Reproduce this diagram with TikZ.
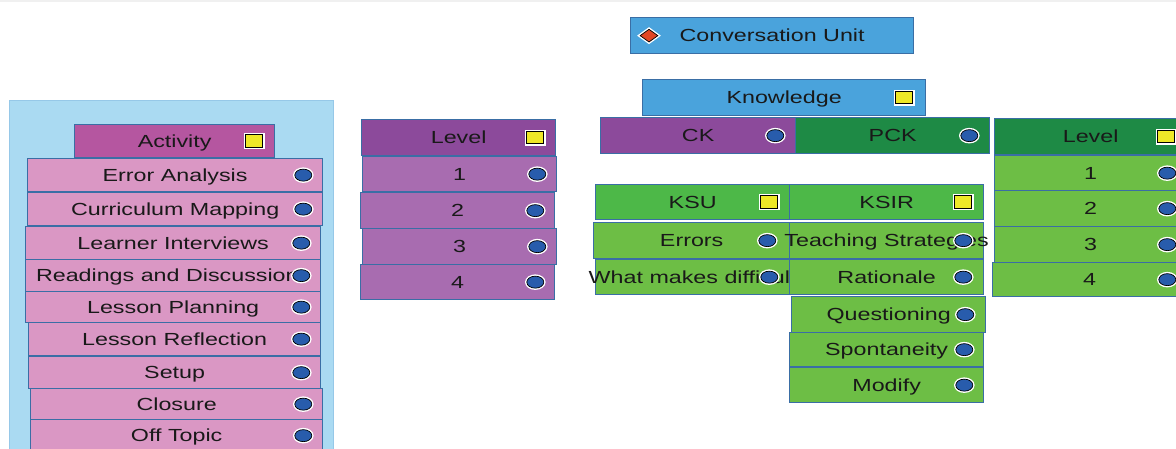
\documentclass[tikz,border=0pt]{standalone}
\usepackage{fontspec}
\setmainfont[FakeStretch=1.33]{Liberation Sans}
\usetikzlibrary{shapes.geometric}
\definecolor{panelc}{RGB}{170,218,242}
\definecolor{panelb}{RGB}{150,200,232}
\definecolor{actc}{RGB}{181,86,160}
\definecolor{pinkc}{RGB}{218,151,196}
\definecolor{purpc}{RGB}{140,74,155}
\definecolor{lpurpc}{RGB}{168,108,176}
\definecolor{bluec}{RGB}{74,163,220}
\definecolor{dgreenc}{RGB}{30,138,69}
\definecolor{mgreenc}{RGB}{77,184,72}
\definecolor{lgreenc}{RGB}{109,190,69}
\definecolor{borderc}{RGB}{58,110,165}
\definecolor{dotc}{RGB}{40,92,172}
\definecolor{yelc}{RGB}{238,232,40}
\definecolor{redc}{RGB}{226,70,36}
\definecolor{textc}{RGB}{25,25,25}
\tikzset{
  box/.style={rectangle, draw=borderc, line width=1.3pt, inner sep=0pt, anchor=north west,
    text height=12.5pt, text depth=0pt, text=textc,
    font=\fontsize{17.5}{20}\selectfont},
  dot/.style={ellipse, fill=dotc, draw=black, line width=0.7pt, minimum width=17pt, minimum height=12pt,
    inner sep=0pt, preaction={draw=white, line width=3.5pt}},
  ysq/.style={rectangle, fill=yelc, draw=black, line width=0.8pt, minimum width=17pt, minimum height=12.5pt,
    inner sep=0pt, preaction={draw=white, line width=3.5pt}},
  rdia/.style={diamond, fill=redc, draw=black, line width=0.7pt, minimum width=18pt, minimum height=13pt,
    inner sep=0pt, preaction={draw=white, line width=3.5pt}}
}
\newcommand{\T}[1]{\makebox[0pt]{#1}}
\begin{document}
\begin{tikzpicture}[x=1pt,y=-1pt]
\clip (0,0) rectangle (1176,449);
\fill[white] (0,0) rectangle (1176,449);
\fill[gray!12] (0,0) rectangle (1176,2.5);

% left panel
\filldraw[fill=panelc, draw=panelb, line width=1pt] (9,101) rectangle (333,460);

% Activity column
\node[box, fill=actc, minimum width=200pt, minimum height=33pt] (act) at (74,124) {\T{Activity}};
\node[ysq] (actsq) at ([xshift=-21pt]act.east) {};
\node[box, fill=pinkc, minimum width=295pt, minimum height=33pt] (ea) at (27,158) {\T{Error Analysis}};
\node[dot] (ead) at ([xshift=-20pt]ea.east) {};
\node[box, fill=pinkc, minimum width=295pt, minimum height=33pt] (cm) at (27,192) {\T{Curriculum Mapping}};
\node[dot] (cmd) at ([xshift=-20pt]cm.east) {};
\node[box, fill=pinkc, minimum width=295pt, minimum height=33pt] (li) at (25,226) {\T{Learner Interviews}};
\node[dot] (lid) at ([xshift=-20pt]li.east) {};
\node[box, fill=pinkc, minimum width=295pt, minimum height=32pt] (rd) at (25,259) {\T{Readings and Discussions}};
\node[dot] (rdd) at ([xshift=-20pt]rd.east) {};
\node[box, fill=pinkc, minimum width=295pt, minimum height=31pt] (lp) at (25,291) {\T{Lesson Planning}};
\node[dot] (lpd) at ([xshift=-20pt]lp.east) {};
\node[box, fill=pinkc, minimum width=292pt, minimum height=33pt] (lr) at (28,322) {\T{Lesson Reflection}};
\node[dot] (lrd) at ([xshift=-20pt]lr.east) {};
\node[box, fill=pinkc, minimum width=292pt, minimum height=32pt] (su) at (28,356) {\T{Setup}};
\node[dot] (sud) at ([xshift=-20pt]su.east) {};
\node[box, fill=pinkc, minimum width=292pt, minimum height=31pt] (cl) at (30,388) {\T{Closure}};
\node[dot] (cld) at ([xshift=-20pt]cl.east) {};
\node[box, fill=pinkc, minimum width=292pt, minimum height=32pt] (ot) at (30,419) {\T{Off Topic}};
\node[dot] (otd) at ([xshift=-20pt]ot.east) {};

% purple Level column
\node[box, fill=purpc, minimum width=194pt, minimum height=36pt] (lvA) at (361,119) {\T{Level}};
\node[ysq] (lvAsq) at ([xshift=-21pt]lvA.east) {};
\node[box, fill=lpurpc, minimum width=194pt, minimum height=35pt] (lvA1) at (362,156) {\T{1}};
\node[dot] (lvA1d) at ([xshift=-20pt]lvA1.east) {};
\node[box, fill=lpurpc, minimum width=194pt, minimum height=36pt] (lvA2) at (360,192) {\T{2}};
\node[dot] (lvA2d) at ([xshift=-20pt]lvA2.east) {};
\node[box, fill=lpurpc, minimum width=194pt, minimum height=36pt] (lvA3) at (362,228) {\T{3}};
\node[dot] (lvA3d) at ([xshift=-20pt]lvA3.east) {};
\node[box, fill=lpurpc, minimum width=194pt, minimum height=35pt] (lvA4) at (360,264) {\T{4}};
\node[dot] (lvA4d) at ([xshift=-20pt]lvA4.east) {};

% Conversation Unit & Knowledge
\node[box, fill=bluec, minimum width=283pt, minimum height=36pt] (cu) at (630,17) {\T{Conversation Unit}};
\node[rdia] (cudia) at ([xshift=19pt]cu.west) {};
\node[box, fill=bluec, minimum width=283pt, minimum height=36pt] (kn) at (642,79) {\T{Knowledge}};
\node[ysq] (knsq) at ([xshift=-22pt]kn.east) {};

% CK / PCK
\node[box, fill=purpc, minimum width=195pt, minimum height=36pt] (ck) at (600,117) {\T{CK}};
\node[dot] (ckd) at ([xshift=-21pt]ck.east) {};
\node[box, fill=dgreenc, minimum width=194pt, minimum height=36pt] (pck) at (795,117) {\T{PCK}};
\node[dot] (pckd) at ([xshift=-21pt]pck.east) {};

% green Level column
\node[box, fill=dgreenc, minimum width=192pt, minimum height=36pt] (lvB) at (994,118) {\T{Level}};
\node[ysq] (lvBsq) at ([xshift=-21pt]lvB.east) {};
\node[box, fill=lgreenc, minimum width=192pt, minimum height=35pt] (lvB1) at (994,155) {\T{1}};
\node[dot] (lvB1d) at ([xshift=-20pt]lvB1.east) {};
\node[box, fill=lgreenc, minimum width=192pt, minimum height=36pt] (lvB2) at (994,190) {\T{2}};
\node[dot] (lvB2d) at ([xshift=-20pt]lvB2.east) {};
\node[box, fill=lgreenc, minimum width=192pt, minimum height=36pt] (lvB3) at (994,226) {\T{3}};
\node[dot] (lvB3d) at ([xshift=-20pt]lvB3.east) {};
\node[box, fill=lgreenc, minimum width=194pt, minimum height=34pt] (lvB4) at (992,262) {\T{4}};
\node[dot] (lvB4d) at ([xshift=-20pt]lvB4.east) {};

% KSU column
\node[box, fill=mgreenc, minimum width=194pt, minimum height=35pt] (ksu) at (595,184) {\T{KSU}};
\node[ysq] (ksusq) at ([xshift=-21pt]ksu.east) {};
\node[box, fill=lgreenc, minimum width=196pt, minimum height=36pt] (err) at (593,222) {\T{Errors}};
\node[dot] (errd) at ([xshift=-23pt]err.east) {};
\node[box, fill=lgreenc, minimum width=194pt, minimum height=35pt] (wmd) at (595,259) {\T{What makes difficult}};
\node[dot] (wmdd) at ([xshift=-21pt]wmd.east) {};

% KSIR column
\node[box, fill=mgreenc, minimum width=194pt, minimum height=35pt] (ksir) at (789,184) {\T{KSIR}};
\node[ysq] (ksirsq) at ([xshift=-21pt]ksir.east) {};
\node[box, fill=lgreenc, minimum width=194pt, minimum height=36pt] (ts) at (789,222) {\T{Teaching Strategies}};
\node[dot] (tsd) at ([xshift=-21pt]ts.east) {};
\node[box, fill=lgreenc, minimum width=194pt, minimum height=35pt] (rat) at (789,259) {\T{Rationale}};
\node[dot] (ratd) at ([xshift=-21pt]rat.east) {};
\node[box, fill=lgreenc, minimum width=194pt, minimum height=36pt] (qu) at (791,296) {\T{Questioning}};
\node[dot] (qud) at ([xshift=-21pt]qu.east) {};
\node[box, fill=lgreenc, minimum width=194pt, minimum height=34pt] (sp) at (789,332) {\T{Spontaneity}};
\node[dot] (spd) at ([xshift=-20pt]sp.east) {};
\node[box, fill=lgreenc, minimum width=194pt, minimum height=35pt] (mo) at (789,367) {\T{Modify}};
\node[dot] (mod) at ([xshift=-20pt]mo.east) {};
\end{tikzpicture}
\end{document}
